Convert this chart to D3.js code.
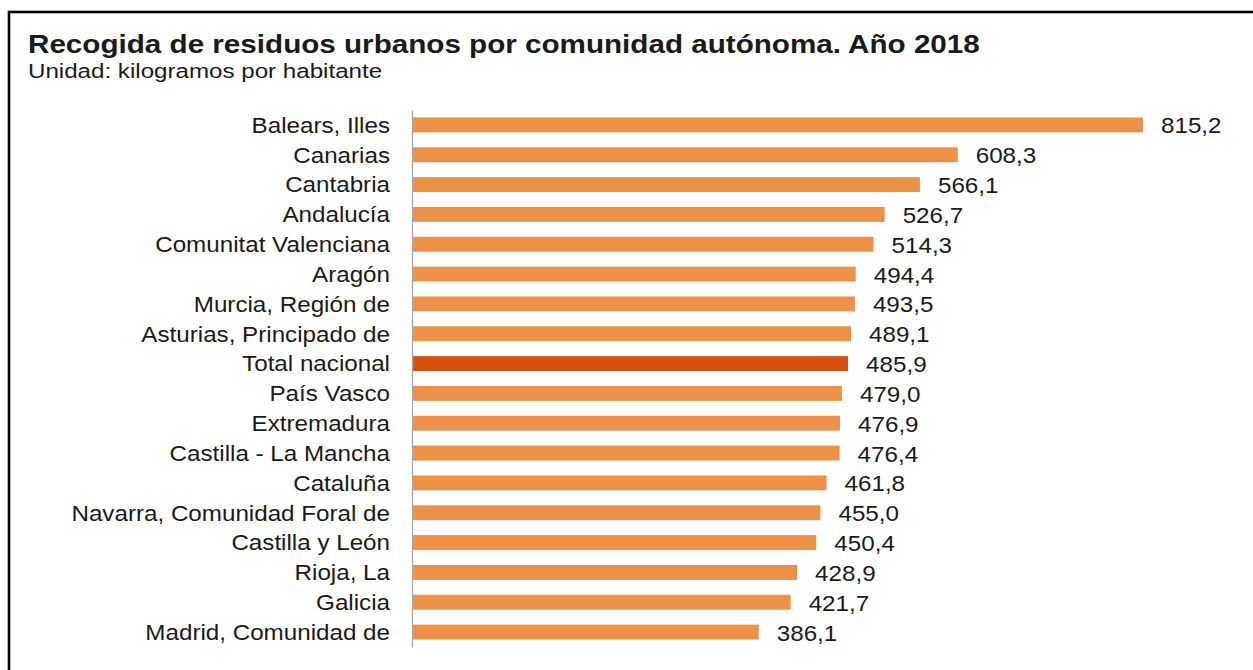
<!DOCTYPE html>
<html>
<head>
<meta charset="utf-8">
<script src="https://cdn.jsdelivr.net/npm/d3@7"></script>
<style>
  html, body { margin: 0; padding: 0; background: #fff; }
  svg { display: block; }
  text { font-family: "Liberation Sans", Arial, sans-serif; fill: #1a1a1a; }
</style>
</head>
<body>
<svg id="chart" width="1253" height="670"></svg>
<script>
const title = "Recogida de residuos urbanos por comunidad autónoma. Año 2018";
const subtitle = "Unidad: kilogramos por habitante";
const categories = [
  "Balears, Illes", "Canarias", "Cantabria", "Andalucía", "Comunitat Valenciana",
  "Aragón", "Murcia, Región de", "Asturias, Principado de", "Total nacional",
  "País Vasco", "Extremadura", "Castilla - La Mancha", "Cataluña",
  "Navarra, Comunidad Foral de", "Castilla y León", "Rioja, La", "Galicia",
  "Madrid, Comunidad de"
];
const values = [815.2, 608.3, 566.1, 526.7, 514.3, 494.4, 493.5, 489.1, 485.9,
  479.0, 476.9, 476.4, 461.8, 455.0, 450.4, 428.9, 421.7, 386.1];
const highlight = "Total nacional";

const data = categories.map((c, i) => ({ cat: c, val: values[i] }));

const svg = d3.select("#chart");
const stretch = 1.1;

// Frame
svg.append("rect")
  .attr("x", 9).attr("y", 12)
  .attr("width", 1400).attr("height", 800)
  .attr("fill", "none").attr("stroke", "#000").attr("stroke-width", 2.6);

// Title & subtitle
svg.append("text")
  .attr("transform", "translate(28,53) scale(1.14,1)")
  .attr("font-size", 26).attr("font-weight", "bold")
  .text(title);
svg.append("text")
  .attr("transform", "translate(28,78) scale(1.15,1)")
  .attr("font-size", 21)
  .text(subtitle);

const x0 = 413;
const x = d3.scaleLinear().domain([0, 815.2]).range([x0, 1143]);
const y = d3.scaleBand().domain(categories).range([110, 647])
  .paddingInner(0.5).paddingOuter(0.25);

const fmt = d3.formatLocale({ decimal: ",", thousands: ".", grouping: [3], currency: ["", "€"] }).format(".1f");

// Bars
svg.append("g").selectAll("rect").data(data).join("rect")
  .attr("x", x(0))
  .attr("y", d => y(d.cat))
  .attr("width", d => x(d.val) - x(0))
  .attr("height", y.bandwidth())
  .attr("fill", d => d.cat === highlight ? "#D6500F" : "#EE9148");

// Axis (left)
const axis = d3.axisLeft(y).tickSize(0).tickPadding(0).tickFormat("");
const ag = svg.append("g").attr("transform", `translate(${x0 - 1},0)`).call(axis);
ag.select(".domain").attr("stroke", "#a6a6a6").attr("stroke-width", 1.3);
ag.selectAll(".tick text").remove();

// Category labels
svg.append("g").selectAll("text").data(data).join("text")
  .attr("transform", d => `translate(390,${y(d.cat) + y.bandwidth() / 2 + 7.8}) scale(${stretch},1)`)
  .attr("text-anchor", "end")
  .attr("font-size", 22)
  .text(d => d.cat);

// Value labels
svg.append("g").selectAll("text").data(data).join("text")
  .attr("transform", d => `translate(${x(d.val) + 18},${y(d.cat) + y.bandwidth() / 2 + 8.5}) scale(${stretch},1)`)
  .attr("font-size", 22)
  .text(d => fmt(d.val));
</script>
</body>
</html>
